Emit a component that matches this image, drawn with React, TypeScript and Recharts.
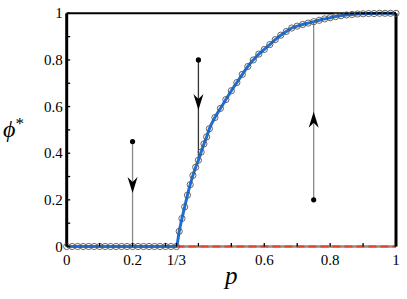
import React from "react";
import { ComposedChart, Line, Scatter, XAxis, YAxis, Label } from "recharts";

// simulated/analytic phi* vs p
const pValues = [
  0, 0.0167, 0.0333, 0.05, 0.0667, 0.0833, 0.1, 0.1167, 0.1333, 0.15, 0.1667,
  0.1833, 0.2, 0.2167, 0.2333, 0.25, 0.2667, 0.2833, 0.3, 0.3167, 0.3333,
  0.3417, 0.35, 0.3583, 0.3667, 0.375, 0.3833, 0.3917, 0.4, 0.4083, 0.4167,
  0.425, 0.4333, 0.45, 0.4667, 0.4833, 0.5, 0.5167, 0.5333, 0.55, 0.5667,
  0.5833, 0.6, 0.6167, 0.6333, 0.65, 0.6667, 0.6833, 0.7, 0.7167, 0.7333, 0.75,
  0.7667, 0.7833, 0.8, 0.8167, 0.8333, 0.85, 0.8667, 0.8833, 0.9, 0.9167,
  0.9333, 0.95, 0.9667, 0.9833, 1,
];
const phiValues = [
  0, 0, 0, 0, 0, 0, 0, 0, 0, 0, 0, 0, 0, 0, 0, 0, 0, 0, 0, 0, 0,
  0.065, 0.12, 0.17, 0.22, 0.265, 0.305, 0.34, 0.37, 0.405, 0.44,
  0.47, 0.505, 0.553, 0.592, 0.63, 0.668, 0.703, 0.738, 0.772, 0.8,
  0.825, 0.845, 0.866, 0.887, 0.906, 0.922, 0.937, 0.945, 0.952, 0.958, 0.964,
  0.97, 0.976, 0.981, 0.986, 0.99, 0.993, 0.995, 0.997, 0.998, 0.999,
  0.999, 1, 1, 1, 1,
];

// unstable branch (gray line with red dashes)
const unstableP = [0.3333, 1];
const unstablePhi = [0, 0];

// flow arrows
const arrowP = [0.2, 0.4, 0.75];
const arrowStart = [0.45, 0.8, 0.2];
const arrowEnd = [0, 0.37, 0.964];
const arrowTip = [0.229, 0.585, 0.578];
const arrowColor = ["#8a8a8a", "#333333", "#8a8a8a"];

const xTicks = [0, 0.1, 0.2, 0.3, 0.3333, 0.4, 0.5, 0.6, 0.7, 0.8, 0.9, 1];
const xLabels: Record<string, string> = {
  "0": "0",
  "0.2": "0.2",
  "0.3333": "1/3",
  "0.6": "0.6",
  "0.8": "0.8",
  "1": "1",
};
const yTicks = [0, 0.1, 0.2, 0.3, 0.4, 0.5, 0.6, 0.7, 0.8, 0.9, 1];
const yLabels: Record<string, string> = {
  "0": "0",
  "0.2": "0.2",
  "0.4": "0.4",
  "0.6": "0.6",
  "0.8": "0.8",
  "1": "1",
};

const curve = pValues.map((p, i) => ({ p, phi: phiValues[i] }));
const unstable = unstableP.map((p, i) => ({ p, phi: unstablePhi[i] }));
const arrowLines = arrowP.map((p, i) => [
  { p, phi: arrowStart[i] },
  { p, phi: arrowEnd[i] },
]);
const arrowDots = arrowP.map((p, i) => ({ p, phi: arrowStart[i] }));
const arrowHeads = arrowP.map((p, i) => ({
  p,
  phi: arrowTip[i],
  up: arrowEnd[i] > arrowStart[i],
}));

const FONT = "Liberation Serif";

function BottomTick(props: any) {
  const { x, y, payload } = props;
  const label = xLabels[String(payload.value)];
  return (
    <g>
      <line x1={x} x2={x} y1={y} y2={y - 3.5} stroke="#000" strokeWidth={1.3} />
      {label && (
        <text x={x} y={y + 18} textAnchor="middle" fontFamily={FONT} fontSize={15} fill="#000">
          {label}
        </text>
      )}
    </g>
  );
}

function TopTick(props: any) {
  const { x, y } = props;
  return <line x1={x} x2={x} y1={y} y2={y + 3.5} stroke="#000" strokeWidth={1.3} />;
}

function LeftTick(props: any) {
  const { x, y, payload } = props;
  const label = yLabels[String(payload.value)];
  return (
    <g>
      <line x1={x} x2={x + 3.5} y1={y} y2={y} stroke="#000" strokeWidth={1.3} />
      {label && (
        <text x={x - 4} y={y + 5} textAnchor="end" fontFamily={FONT} fontSize={15} fill="#000">
          {label}
        </text>
      )}
    </g>
  );
}

function RightTick(props: any) {
  const { x, y } = props;
  return <line x1={x} x2={x - 3.5} y1={y} y2={y} stroke="#000" strokeWidth={1.3} />;
}

function Marker(props: any) {
  const { cx, cy } = props;
  return <circle cx={cx} cy={cy} r={3.1} fill="none" stroke="#555" strokeWidth={0.9} />;
}

function StartDot(props: any) {
  const { cx, cy } = props;
  return <circle cx={cx} cy={cy} r={2.6} fill="#000" />;
}

function ArrowHead(props: any) {
  const { cx, cy, payload } = props;
  const s = payload.up ? 1 : -1;
  const pts = [
    [cx, cy],
    [cx - 5, cy + s * 16],
    [cx, cy + s * 11],
    [cx + 5, cy + s * 16],
  ]
    .map((q) => q.join(","))
    .join(" ");
  return <polygon points={pts} fill="#000" />;
}

function XTitle(props: any) {
  const vb = props.viewBox;
  return (
    <text
      x={vb.x + vb.width / 2}
      y={vb.y + 37}
      textAnchor="middle"
      fontFamily={FONT}
      fontStyle="italic"
      fontSize={25}
      fill="#000"
    >
      p
    </text>
  );
}

function YTitle(props: any) {
  const vb = props.viewBox;
  return (
    <text x={3} y={vb.y + vb.height / 2 + 7} fontFamily={FONT} fontSize={24} fill="#000">
      <tspan fontStyle="italic">ϕ</tspan>
      <tspan fontSize={17} dy={-8}>
        *
      </tspan>
    </text>
  );
}

export default function App() {
  return (
    <div style={{ position: "absolute", left: 0, top: 0, background: "#fff" }}>
      <ComposedChart width={407} height={299} margin={{ top: 0, right: 0, bottom: 0, left: 0 }}>
        <XAxis
          dataKey="p"
          type="number"
          domain={[0, 1]}
          ticks={xTicks}
          interval={0}
          height={52.5}
          tickSize={0}
          tickMargin={0}
          tickLine={false}
          tick={<BottomTick />}
          axisLine={false}
        >
          <Label content={<XTitle />} />
        </XAxis>
        <XAxis
          xAxisId="top"
          orientation="top"
          type="number"
          domain={[0, 1]}
          ticks={xTicks}
          interval={0}
          height={13.3}
          tickSize={0}
          tickMargin={0}
          tickLine={false}
          tick={<TopTick />}
          axisLine={{ stroke: "#000", strokeWidth: 2 }}
        />
        <YAxis
          type="number"
          domain={[0, 1]}
          ticks={yTicks}
          interval={0}
          width={66.7}
          tickSize={0}
          tickMargin={0}
          tickLine={false}
          tick={<LeftTick />}
          axisLine={{ stroke: "#000", strokeWidth: 3 }}
        >
          <Label content={<YTitle />} />
        </YAxis>
        <YAxis
          yAxisId="right"
          orientation="right"
          type="number"
          domain={[0, 1]}
          ticks={yTicks}
          interval={0}
          width={11}
          tickSize={0}
          tickMargin={0}
          tickLine={false}
          tick={<RightTick />}
          axisLine={{ stroke: "#000", strokeWidth: 3 }}
        />

        {arrowLines.map((d, i) => (
          <Line
            key={`al${i}`}
            data={d}
            dataKey="phi"
            type="linear"
            stroke={arrowColor[i]}
            strokeWidth={1.3}
            dot={false}
            activeDot={false}
            isAnimationActive={false}
          />
        ))}
        <Line
          data={unstable}
          dataKey="phi"
          type="linear"
          stroke="#8c8c8c"
          strokeWidth={2.5}
          dot={false}
          activeDot={false}
          isAnimationActive={false}
        />
        <Line
          data={unstable}
          dataKey="phi"
          type="linear"
          stroke="#e0442a"
          strokeWidth={2}
          strokeDasharray="8 4"
          dot={false}
          activeDot={false}
          isAnimationActive={false}
        />
        <Scatter data={curve} dataKey="phi" shape={<Marker />} isAnimationActive={false} />
        <Line
          data={curve}
          dataKey="phi"
          type="monotone"
          stroke="#1a6fdc"
          strokeWidth={3}
          dot={false}
          activeDot={false}
          isAnimationActive={false}
        />
        <Scatter data={arrowDots} dataKey="phi" shape={<StartDot />} isAnimationActive={false} />
        <Scatter data={arrowHeads} dataKey="phi" shape={<ArrowHead />} isAnimationActive={false} />
      </ComposedChart>
    </div>
  );
}
